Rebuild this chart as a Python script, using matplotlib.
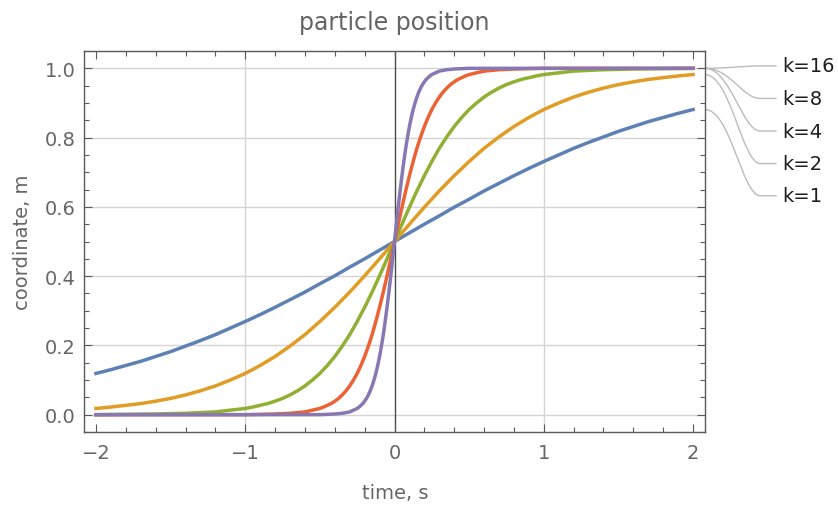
# Particle position: logistic curves for several k values (Mathematica-style look)
import matplotlib.pyplot as plt
from matplotlib.path import Path
from matplotlib.patches import PathPatch
from matplotlib.ticker import MultipleLocator

# ---- data ----
t_k1 = [-2.0, -1.9, -1.8, -1.7, -1.6, -1.5, -1.4, -1.3, -1.2, -1.1,
        -1.0, -0.9, -0.8, -0.7, -0.6, -0.5, -0.4, -0.3, -0.2, -0.1, 0.0,
        0.1, 0.2, 0.3, 0.4, 0.5, 0.6, 0.7, 0.8, 0.9, 1.0,
        1.1, 1.2, 1.3, 1.4, 1.5, 1.6, 1.7, 1.8, 1.9, 2.0]
y_k1 = [0.119, 0.130, 0.142, 0.154, 0.168, 0.182, 0.198, 0.214, 0.231, 0.250,
        0.269, 0.289, 0.310, 0.332, 0.354, 0.378, 0.401, 0.426, 0.450, 0.475, 0.500,
        0.525, 0.550, 0.574, 0.599, 0.622, 0.646, 0.668, 0.690, 0.711, 0.731,
        0.750, 0.769, 0.786, 0.802, 0.818, 0.832, 0.846, 0.858, 0.870, 0.881]

t_k2 = [-2.0, -1.9, -1.8, -1.7, -1.6, -1.5, -1.4, -1.3, -1.2, -1.1,
        -1.0, -0.9, -0.8, -0.7, -0.6, -0.5, -0.4, -0.3, -0.2, -0.1, 0.0,
        0.1, 0.2, 0.3, 0.4, 0.5, 0.6, 0.7, 0.8, 0.9, 1.0,
        1.1, 1.2, 1.3, 1.4, 1.5, 1.6, 1.7, 1.8, 1.9, 2.0]
y_k2 = [0.018, 0.022, 0.027, 0.032, 0.039, 0.047, 0.057, 0.069, 0.083, 0.100,
        0.119, 0.142, 0.168, 0.198, 0.231, 0.269, 0.310, 0.354, 0.401, 0.450, 0.500,
        0.550, 0.599, 0.646, 0.690, 0.731, 0.769, 0.802, 0.832, 0.858, 0.881,
        0.900, 0.917, 0.931, 0.943, 0.953, 0.961, 0.968, 0.973, 0.978, 0.982]

t_k4 = [-2.0, -1.8, -1.6, -1.4, -1.2,
        -1.0, -0.95, -0.9, -0.85, -0.8, -0.75, -0.7, -0.65, -0.6, -0.55,
        -0.5, -0.45, -0.4, -0.35, -0.3, -0.25, -0.2, -0.15, -0.1, -0.05, 0.0,
        0.05, 0.1, 0.15, 0.2, 0.25, 0.3, 0.35, 0.4, 0.45, 0.5,
        0.55, 0.6, 0.65, 0.7, 0.75, 0.8, 0.85, 0.9, 0.95, 1.0,
        1.2, 1.4, 1.6, 1.8, 2.0]
y_k4 = [0.000, 0.001, 0.002, 0.004, 0.008,
        0.018, 0.022, 0.027, 0.032, 0.039, 0.047, 0.057, 0.069, 0.083, 0.100,
        0.119, 0.142, 0.168, 0.198, 0.231, 0.269, 0.310, 0.354, 0.401, 0.450, 0.500,
        0.550, 0.599, 0.646, 0.690, 0.731, 0.769, 0.802, 0.832, 0.858, 0.881,
        0.900, 0.917, 0.931, 0.943, 0.953, 0.961, 0.968, 0.973, 0.978, 0.982,
        0.992, 0.996, 0.998, 0.999, 1.000]

t_k8 = [-2.0, -1.5, -1.0, -0.9, -0.8, -0.7, -0.6,
        -0.5, -0.475, -0.45, -0.425, -0.4, -0.375, -0.35, -0.325, -0.3, -0.275,
        -0.25, -0.225, -0.2, -0.175, -0.15, -0.125, -0.1, -0.075, -0.05, -0.025, 0.0,
        0.025, 0.05, 0.075, 0.1, 0.125, 0.15, 0.175, 0.2, 0.225, 0.25,
        0.275, 0.3, 0.325, 0.35, 0.375, 0.4, 0.425, 0.45, 0.475, 0.5,
        0.6, 0.7, 0.8, 0.9, 1.0, 1.5, 2.0]
y_k8 = [0.000, 0.000, 0.000, 0.001, 0.002, 0.004, 0.008,
        0.018, 0.022, 0.027, 0.032, 0.039, 0.047, 0.057, 0.069, 0.083, 0.100,
        0.119, 0.142, 0.168, 0.198, 0.231, 0.269, 0.310, 0.354, 0.401, 0.450, 0.500,
        0.550, 0.599, 0.646, 0.690, 0.731, 0.769, 0.802, 0.832, 0.858, 0.881,
        0.900, 0.917, 0.931, 0.943, 0.953, 0.961, 0.968, 0.973, 0.978, 0.982,
        0.992, 0.996, 0.998, 0.999, 1.000, 1.000, 1.000]

t_k16 = [-2.0, -1.0, -0.5, -0.45, -0.4, -0.35, -0.3,
         -0.25, -0.2375, -0.225, -0.2125, -0.2, -0.1875, -0.175, -0.1625, -0.15, -0.1375,
         -0.125, -0.1125, -0.1, -0.0875, -0.075, -0.0625, -0.05, -0.0375, -0.025, -0.0125, 0.0,
         0.0125, 0.025, 0.0375, 0.05, 0.0625, 0.075, 0.0875, 0.1, 0.1125, 0.125,
         0.1375, 0.15, 0.1625, 0.175, 0.1875, 0.2, 0.2125, 0.225, 0.2375, 0.25,
         0.3, 0.35, 0.4, 0.45, 0.5, 1.0, 2.0]
y_k16 = [0.000, 0.000, 0.000, 0.001, 0.002, 0.004, 0.008,
         0.018, 0.022, 0.027, 0.032, 0.039, 0.047, 0.057, 0.069, 0.083, 0.100,
         0.119, 0.142, 0.168, 0.198, 0.231, 0.269, 0.310, 0.354, 0.401, 0.450, 0.500,
         0.550, 0.599, 0.646, 0.690, 0.731, 0.769, 0.802, 0.832, 0.858, 0.881,
         0.900, 0.917, 0.931, 0.943, 0.953, 0.961, 0.968, 0.973, 0.978, 0.982,
         0.992, 0.996, 0.998, 0.999, 1.000, 1.000, 1.000]

labels = ['k=1', 'k=2', 'k=4', 'k=8', 'k=16']
colors = ['#5E81B5', '#E19C24', '#8FB032', '#EB6235', '#8778B3']
series = [(t_k1, y_k1), (t_k2, y_k2), (t_k4, y_k4), (t_k8, y_k8), (t_k16, y_k16)]

# where the callout labels sit on the right (data units, outside the frame)
label_y = [0.632, 0.725, 0.819, 0.913, 1.007]

W, H = 838, 506
fig = plt.figure(figsize=(W / 100, H / 100), dpi=100)
ax = fig.add_axes([84 / W, 1 - 433 / H, (705 - 84) / W, (433 - 52) / H])
ax.set_xlim(-2.08, 2.08)
ax.set_ylim(-0.05, 1.05)

# grid lines + the vertical axis at t = 0
for gy in [0.0, 0.2, 0.4, 0.6, 0.8, 1.0]:
    ax.axhline(gy, color='#d4d4d4', lw=1, zorder=0)
for gx in [-1, 1]:
    ax.axvline(gx, color='#d4d4d4', lw=1, zorder=0)
ax.axvline(0, color='#4a4a4a', lw=1, zorder=1)

# the curves
for (t, y), c in zip(series, colors):
    ax.plot(t, y, color=c, lw=2.5, zorder=2, solid_joinstyle='round')

# callout lines and labels
x0 = 2.08
for (t, y), lab, ly in zip(series, labels, label_y):
    y0 = y[-1]
    verts = [(x0, y0), (2.25, y0), (2.33, ly), (2.45, ly), (2.56, ly)]
    codes = [Path.MOVETO, Path.CURVE4, Path.CURVE4, Path.CURVE4, Path.LINETO]
    ax.add_patch(PathPatch(Path(verts, codes), fill=False, edgecolor='#bcbcbc',
                           lw=1, clip_on=False))
    ax.text(2.595, ly, lab, ha='left', va='center', fontsize=14,
            color='#1e1e1e', clip_on=False)

# frame and ticks
for s in ax.spines.values():
    s.set_color('#5a5a5a')
    s.set_linewidth(1)
ax.xaxis.set_major_locator(MultipleLocator(1))
ax.xaxis.set_minor_locator(MultipleLocator(0.2))
ax.yaxis.set_minor_locator(MultipleLocator(0.05))
ax.set_yticks([0.0, 0.2, 0.4, 0.6, 0.8, 1.0])
ax.set_yticklabels(['0.0', '0.2', '0.4', '0.6', '0.8', '1.0'])
ax.tick_params(which='both', direction='in', top=True, right=True,
               color='#5a5a5a', width=0.8, labelcolor='#666666', labelsize=14)
ax.tick_params(which='major', length=6)
ax.tick_params(which='minor', length=3.5)
ax.tick_params(axis='x', pad=8)
ax.tick_params(axis='y', pad=6)

# titles
fig.text(394 / W, 1 - 30 / H, 'particle position', ha='center', va='baseline',
         fontsize=17, color='#646464')
fig.text(395 / W, 1 - 499 / H, 'time, s', ha='center', va='baseline',
         fontsize=14, color='#666666')
fig.text(22 / W, 1 - 242 / H, 'coordinate, m', ha='center', va='center',
         rotation=90, fontsize=14, color='#666666')

fig.savefig('out.png', dpi=100)
